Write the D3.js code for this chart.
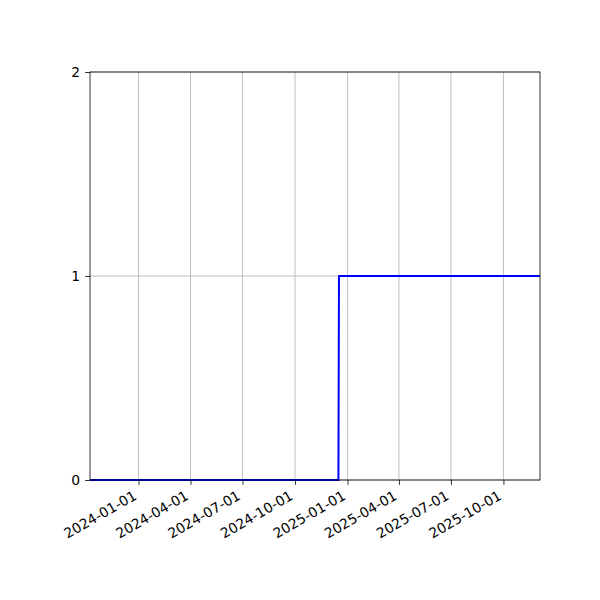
<!DOCTYPE html>
<html>
<head>
<meta charset="utf-8">
<script src="https://cdn.jsdelivr.net/npm/d3@7"></script>
<style>
  html, body { margin: 0; padding: 0; background: #fff; }
  svg text { font-family: "DejaVu Sans", sans-serif; font-size: 13.9px; fill: #000; }
</style>
</head>
<body>
<svg id="chart" width="600" height="600"></svg>
<script>
// data: a single step from 0 to 1 in mid December 2024
const dates = ["2023-10-08", "2024-12-16", "2024-12-17", "2025-12-04"];
const values = [0, 0, 1, 1];
const xTickDates = ["2024-01-01", "2024-04-01", "2024-07-01", "2024-10-01",
                    "2025-01-01", "2025-04-01", "2025-07-01", "2025-10-01"];
const yTicks = [0, 1, 2];

function drawChart() {
  const parse = d3.utcParse("%Y-%m-%d");
  const fmt = d3.utcFormat("%Y-%m-%d");
  const points = dates.map((d, i) => ({ date: parse(d), value: values[i] }));
  const tickDates = xTickDates.map(parse);

  // plot area, matplotlib default-ish box
  const left = 90, right = 540, top = 72, bottom = 480;

  const svg = d3.select("#chart");

  const x = d3.scaleUtc()
    .domain([parse(dates[0]), parse(dates[dates.length - 1])])
    .range([left, right]);
  const y = d3.scaleLinear().domain([0, 2]).range([bottom, top]);

  // grid lines
  const grid = svg.append("g").attr("stroke", "#b0b0b0").attr("stroke-width", 0.8);
  grid.selectAll(".vg").data(tickDates).enter().append("line")
    .attr("x1", d => x(d)).attr("x2", d => x(d))
    .attr("y1", top).attr("y2", bottom);
  grid.selectAll(".hg").data(yTicks).enter().append("line")
    .attr("x1", left).attr("x2", right)
    .attr("y1", d => y(d)).attr("y2", d => y(d));

  // the step line
  const line = d3.line().x(d => x(d.date)).y(d => y(d.value));
  svg.append("path")
    .datum(points)
    .attr("fill", "none")
    .attr("stroke", "#0000ff")
    .attr("stroke-width", 2)
    .attr("d", line);

  // axes
  const xAxis = svg.append("g")
    .attr("transform", `translate(0,${bottom})`)
    .call(d3.axisBottom(x).tickValues(tickDates).tickFormat(fmt)
      .tickSizeInner(4.9).tickSizeOuter(0).tickPadding(4.9));
  xAxis.select(".domain").remove();
  xAxis.selectAll("line").attr("stroke", "#000").attr("stroke-width", 0.8);
  xAxis.selectAll("text")
    .attr("font-family", null).attr("font-size", null)
    .attr("text-anchor", "end")
    .attr("dy", null)
    .attr("y", 0)
    .attr("transform", "translate(-1.5,18.5) rotate(-30)");

  const yAxis = svg.append("g")
    .attr("transform", `translate(${left},0)`)
    .call(d3.axisLeft(y).tickValues(yTicks).tickFormat(d3.format("d"))
      .tickSizeInner(4.9).tickSizeOuter(0).tickPadding(4.9));
  yAxis.select(".domain").remove();
  yAxis.selectAll("line").attr("stroke", "#000").attr("stroke-width", 0.8);
  yAxis.selectAll("text").attr("font-family", null).attr("font-size", null);

  // spines
  svg.append("rect")
    .attr("x", left).attr("y", top)
    .attr("width", right - left).attr("height", bottom - top)
    .attr("fill", "none").attr("stroke", "#000").attr("stroke-width", 0.8);
}

document.addEventListener("DOMContentLoaded", drawChart);
</script>
</body>
</html>
